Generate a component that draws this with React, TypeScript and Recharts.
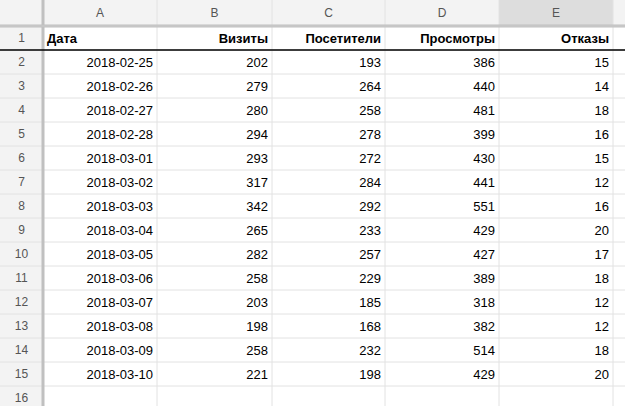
import { ScatterChart, Scatter, XAxis, YAxis, ReferenceArea, ReferenceLine } from "recharts";

const columnLetters = ["A", "B", "C", "D", "E"];
const headers = ["Дата", "Визиты", "Посетители", "Просмотры", "Отказы"];
const dates = [
  "2018-02-25", "2018-02-26", "2018-02-27", "2018-02-28", "2018-03-01", "2018-03-02", "2018-03-03",
  "2018-03-04", "2018-03-05", "2018-03-06", "2018-03-07", "2018-03-08", "2018-03-09", "2018-03-10",
];
const visits = [202, 279, 280, 294, 293, 317, 342, 265, 282, 258, 203, 198, 258, 221];
const visitors = [193, 264, 258, 278, 272, 284, 292, 233, 257, 229, 185, 168, 232, 198];
const views = [386, 440, 481, 399, 430, 441, 551, 429, 427, 389, 318, 382, 514, 429];
const bounces = [15, 14, 18, 16, 15, 12, 16, 20, 17, 18, 12, 12, 18, 20];

const W = 625;
const H = 406;
const colEdges = [0, 43, 157, 272, 385, 499, 613, 625];
const headerH = 26;
const rowH = 24;
const rowCount = 16;
const rowTop = (r: number) => headerH + (r - 1) * rowH;

type Cell = { x: number; y: number; text: string; anchor: string; bold?: boolean; color?: string; size?: number };

const cells: Cell[] = [];
columnLetters.forEach((l, j) =>
  cells.push({ x: (colEdges[j + 1] + colEdges[j + 2]) / 2, y: headerH / 2, text: l, anchor: "middle", color: "#555", size: 12 })
);
for (let r = 1; r <= rowCount; r++)
  cells.push({ x: 21.5, y: rowTop(r) + rowH / 2, text: String(r), anchor: "middle", color: "#555", size: 12 });
headers.forEach((h, j) =>
  cells.push({
    x: j === 0 ? colEdges[1] + 4 : colEdges[j + 2] - 4,
    y: rowTop(1) + rowH / 2,
    text: h,
    anchor: j === 0 ? "start" : "end",
    bold: true,
  })
);
const columns = [dates, visits, visitors, views, bounces];
dates.forEach((_, i) =>
  columns.forEach((col, j) =>
    cells.push({ x: colEdges[j + 2] - 4, y: rowTop(i + 2) + rowH / 2, text: String(col[i]), anchor: "end" })
  )
);

const CellText = (props: any) => {
  const { cx, cy, payload } = props;
  return (
    <text
      x={cx}
      y={cy}
      dy="0.36em"
      textAnchor={payload.anchor}
      fontFamily="Liberation Sans, Arial, sans-serif"
      fontSize={payload.size ?? 13}
      fontWeight={payload.bold ? "bold" : "normal"}
      fill={payload.color ?? "#000"}
    >
      {payload.text}
    </text>
  );
};

export default function App() {
  return (
    <div style={{ position: "absolute", left: 0, top: 0, width: W, height: H, background: "#fff" }}>
      <ScatterChart width={W} height={H} margin={{ top: 0, right: 0, bottom: 0, left: 0 }}>
        <XAxis type="number" dataKey="x" domain={[0, W]} hide />
        <YAxis type="number" dataKey="y" domain={[0, H]} reversed hide />
        <ReferenceArea x1={0} x2={W} y1={0} y2={headerH} fill="#f3f3f3" fillOpacity={1} stroke="none" />
        <ReferenceArea x1={0} x2={colEdges[1]} y1={0} y2={H} fill="#f3f3f3" fillOpacity={1} stroke="none" />
        <ReferenceArea x1={colEdges[5]} x2={colEdges[6]} y1={0} y2={headerH} fill="#dddddd" fillOpacity={1} stroke="none" />
        {colEdges.slice(1, -1).map((x) => (
          <ReferenceLine key={"v" + x} x={x} stroke="#e2e2e2" />
        ))}
        {Array.from({ length: rowCount }, (_, i) => rowTop(i + 2)).map((y) => (
          <ReferenceLine key={"h" + y} y={y} stroke="#e2e2e2" />
        ))}
        <ReferenceLine x={colEdges[1]} stroke="#c0c0c0" strokeWidth={3} segment={[{ x: colEdges[1], y: 0 }, { x: colEdges[1], y: headerH }]} />
        <ReferenceLine y={headerH} stroke="#c0c0c0" strokeWidth={3} segment={[{ x: 0, y: headerH }, { x: colEdges[1], y: headerH }]} />
        <ReferenceLine y={headerH} stroke="#cccccc" segment={[{ x: colEdges[1], y: headerH }, { x: W, y: headerH }]} />
        <ReferenceLine y={rowTop(2)} stroke="#000" strokeWidth={1.5} segment={[{ x: colEdges[1], y: rowTop(2) }, { x: colEdges[6], y: rowTop(2) }]} />
        <Scatter data={cells} shape={<CellText />} isAnimationActive={false} />
      </ScatterChart>
    </div>
  );
}
